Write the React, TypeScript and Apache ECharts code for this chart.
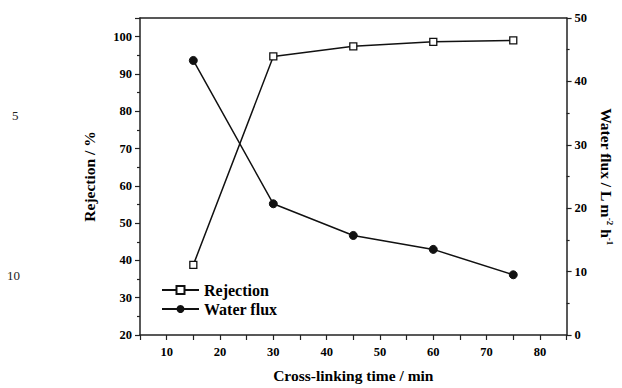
import React, { useEffect, useRef } from "react";
import * as echarts from "echarts";

const times = [15, 30, 45, 60, 75];
const rejection = [38.8, 94.7, 97.4, 98.6, 99.0];
const waterFlux = [43.3, 20.7, 15.7, 13.5, 9.5];

const FONT = "'Liberation Serif', 'Times New Roman', serif";

export default function App() {
  const ref = useRef<HTMLDivElement>(null);
  useEffect(() => {
    if (!ref.current) return;
    const chart = echarts.init(ref.current, undefined, { renderer: "svg" });
    const axisCommon = {
      axisLine: { show: true, lineStyle: { color: "#222", width: 1.5 } },
      axisTick: { show: true, length: 5, lineStyle: { color: "#222", width: 1.2 } },
      minorTick: { show: true, splitNumber: 2, length: 3, lineStyle: { color: "#222", width: 1.2 } },
      splitLine: { show: false },
      axisLabel: { color: "#000", fontFamily: FONT, fontWeight: "bold", fontSize: 12.5 },
      nameTextStyle: { color: "#000", fontFamily: FONT, fontWeight: "bold", fontSize: 15.5 },
    };
    chart.setOption({
      animation: false,
      backgroundColor: "#fff",
      grid: { left: 140, right: 53, top: 18, bottom: 49, show: false },
      legend: {
        left: 156,
        top: 277,
        orient: "vertical",
        itemGap: 3,
        itemWidth: 37,
        itemHeight: 10,
        textStyle: { color: "#000", fontFamily: FONT, fontWeight: "bold", fontSize: 16 },
        data: ["Rejection", "Water flux"],
      },
      xAxis: [
        {
          ...axisCommon,
          type: "value",
          min: 5,
          max: 85,
          interval: 5,
          minorTick: { show: false },
          axisLabel: {
            ...axisCommon.axisLabel,
            margin: 10,
            formatter: (v: number) => (v % 10 === 0 ? String(v) : ""),
          },
          name: "Cross-linking time / min",
          nameLocation: "middle",
          nameGap: 32,
        },
        {
          type: "value",
          position: "top",
          min: 5,
          max: 85,
          axisLine: { show: true, lineStyle: { color: "#222", width: 1.5 } },
          axisTick: { show: false },
          axisLabel: { show: false },
          splitLine: { show: false },
        },
      ],
      yAxis: [
        {
          ...axisCommon,
          type: "value",
          min: 20,
          max: 105,
          interval: 10,
          axisLabel: {
            ...axisCommon.axisLabel,
            margin: 8,
            formatter: (v: number) => (v <= 100 ? String(v) : ""),
          },
          name: "Rejection / %",
          nameLocation: "middle",
          nameGap: 43,
          nameRotate: 90,
        },
        {
          ...axisCommon,
          type: "value",
          position: "right",
          min: 0,
          max: 50,
          interval: 10,
          axisLabel: { ...axisCommon.axisLabel, margin: 8 },
          name: "Water flux / L m{sup|-2} h{sup|-1}",
          nameLocation: "middle",
          nameGap: 31,
          nameRotate: -90,
          nameTextStyle: {
            ...axisCommon.nameTextStyle,
            rich: {
              sup: {
                fontFamily: FONT,
                fontWeight: "bold",
                fontSize: 9,
                color: "#000",
                verticalAlign: "bottom",
                padding: [0, 0, 7, 0],
              },
            },
          },
        },
      ],
      series: [
        {
          name: "Rejection",
          type: "line",
          xAxisIndex: 0,
          yAxisIndex: 0,
          data: times.map((t, i) => [t, rejection[i]]),
          symbol: "rect",
          symbolSize: 7,
          lineStyle: { color: "#111", width: 1.5 },
          itemStyle: { color: "#fff", borderColor: "#111", borderWidth: 1.3 },
        },
        {
          name: "Water flux",
          type: "line",
          xAxisIndex: 0,
          yAxisIndex: 1,
          data: times.map((t, i) => [t, waterFlux[i]]),
          symbol: "circle",
          symbolSize: 8,
          lineStyle: { color: "#111", width: 1.5 },
          itemStyle: { color: "#111", borderColor: "#111" },
        },
      ],
      graphic: [
        { type: "text", left: 12, top: 109, style: { text: "5", font: `13px ${FONT}`, fill: "#222" } },
        { type: "text", left: 7, top: 269, style: { text: "10", font: `13px ${FONT}`, fill: "#222" } },
      ],
    });
    return () => chart.dispose();
  }, []);
  return (
    <div
      ref={ref}
      style={{ position: "absolute", left: 0, top: 0, width: 622, height: 388 }}
    />
  );
}
